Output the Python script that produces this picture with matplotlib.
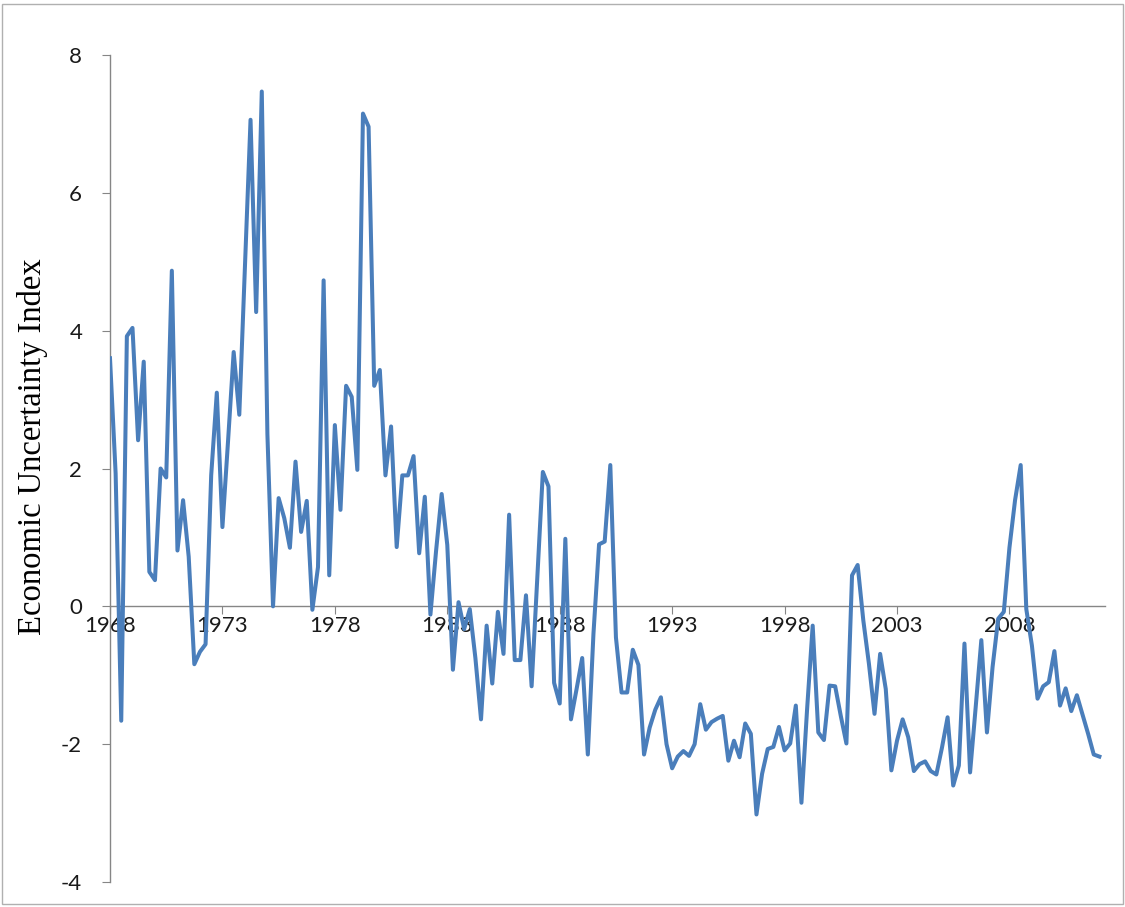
import numpy as np
import matplotlib.pyplot as plt
from matplotlib.patches import Rectangle

plt.rcParams['axes.unicode_minus'] = False

# Quarterly economic uncertainty index, 1968Q1 onward
start_year = 1968
index_values = [
    3.6, 1.93, -1.66, 3.92, 4.04, 2.41, 3.55, 0.5, 0.38, 2.0,
    1.87, 4.87, 0.81, 1.54, 0.72, -0.84, -0.66, -0.55, 1.9, 3.1,
    1.15, 2.4, 3.69, 2.78, 4.9, 7.06, 4.27, 7.47, 2.5, 0.0,
    1.57, 1.28, 0.85, 2.1, 1.08, 1.53, -0.05, 0.57, 4.73, 0.45,
    2.63, 1.4, 3.2, 3.04, 1.98, 7.15, 6.96, 3.2, 3.43, 1.9,
    2.61, 0.86, 1.9, 1.9, 2.18, 0.77, 1.59, -0.12, 0.8, 1.63,
    0.89, -0.92, 0.06, -0.33, -0.04, -0.75, -1.64, -0.28, -1.12, -0.08,
    -0.69, 1.33, -0.78, -0.78, 0.16, -1.16, 0.4, 1.95, 1.74, -1.11,
    -1.41, 0.98, -1.64, -1.2, -0.75, -2.15, -0.4, 0.9, 0.94, 2.05,
    -0.45, -1.25, -1.25, -0.63, -0.85, -2.15, -1.76, -1.5, -1.32, -2.0,
    -2.35, -2.18, -2.1, -2.17, -2.0, -1.42, -1.79, -1.68, -1.63, -1.59,
    -2.24, -1.95, -2.19, -1.7, -1.85, -3.02, -2.43, -2.07, -2.04, -1.75,
    -2.09, -1.99, -1.44, -2.85, -1.5, -0.28, -1.83, -1.94, -1.15, -1.16,
    -1.59, -1.99, 0.45, 0.6, -0.2, -0.83, -1.56, -0.69, -1.2, -2.38,
    -1.95, -1.64, -1.9, -2.39, -2.29, -2.25, -2.39, -2.44, -2.05, -1.61,
    -2.6, -2.31, -0.54, -2.41, -1.46, -0.49, -1.83, -0.88, -0.18, -0.08,
    0.85, 1.54, 2.05, -0.04, -0.57, -1.34, -1.16, -1.1, -0.65, -1.44,
    -1.19, -1.52, -1.29, -1.57, -1.85, -2.15, -2.18,
]
year_ticks = [1968, 1973, 1978, 1983, 1988, 1993, 1998, 2003, 2008]
y_ticks = [-4, -2, 0, 2, 4, 6, 8]

t = start_year + np.arange(len(index_values)) / 4.0

fig = plt.figure(figsize=(11.25, 9.07), dpi=100)
ax = fig.add_axes([110 / 1125, 25 / 907, 995 / 1125, 827 / 907])

ax.plot(t, index_values, color='#4A7EBB', linewidth=2.9, zorder=3)

ax.set_xlim(1968, 1968 + 44.25)
ax.set_ylim(-4, 8)

ax.spines['top'].set_visible(False)
ax.spines['right'].set_visible(False)
ax.spines['bottom'].set_position(('data', 0))
for s in ['left', 'bottom']:
    ax.spines[s].set_color('#868686')
    ax.spines[s].set_linewidth(1.0)

ax.set_xticks(year_ticks)
ax.set_xticklabels([str(y) for y in year_ticks])
ax.set_yticks(y_ticks)
ax.tick_params(axis='both', colors='#868686', labelcolor='#1a1a1a', labelsize=16,
               length=6, direction='out')
ax.tick_params(axis='y', pad=14)
ax.tick_params(axis='x', pad=1)
for lbl in ax.get_xticklabels() + ax.get_yticklabels():
    lbl.set_fontfamily('Lato')

fig.text(33 / 1125, 1 - 447 / 907, 'Economic Uncertainty Index', rotation=90,
         fontsize=23.5, family='Liberation Serif', ha='center', va='center')

# light chart-area border
fig.add_artist(Rectangle((0.002, 0.003), 0.996, 0.993, transform=fig.transFigure,
                         fill=False, edgecolor='#B0B0B0', linewidth=1.0))

fig.savefig('out.png', dpi=100)
